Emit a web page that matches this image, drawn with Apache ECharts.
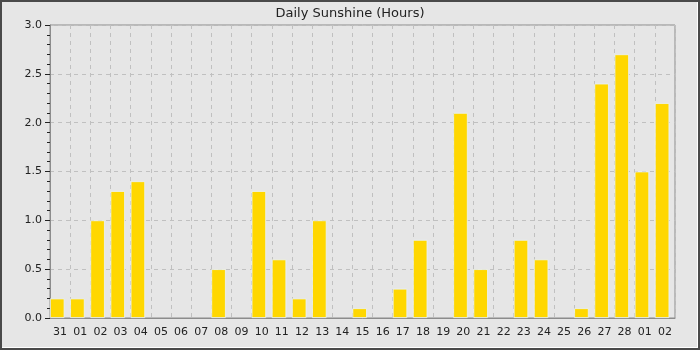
<!DOCTYPE html>
<html><head><meta charset="utf-8">
<script src="https://cdn.jsdelivr.net/npm/echarts@6/dist/echarts.min.js"></script>
<style>
html,body{margin:0;padding:0;background:#4a4a4a;}
#wrap{position:absolute;left:0;top:0;width:700px;height:350px;box-sizing:border-box;border:2px solid #4a4a4a;background:#e6e6e6;box-shadow:inset -1px -1px 0 #ffffff;}
#c{position:absolute;left:0;top:0;width:696px;height:346px;}
</style></head>
<body><div id="wrap"><div id="c"></div></div>
<script>
const titleText = "Daily Sunshine (Hours)";
const categories = ["31","01","02","03","04","05","06","07","08","09","10","11","12","13","14","15","16","17","18","19","20","21","22","23","24","25","26","27","28","01","02"];
const sunshine = [0.2,0.2,1.0,1.3,1.4,0,0,0,0.5,0,1.3,0.6,0.2,1.0,0,0.1,0,0.3,0.8,0,2.1,0.5,0,0.8,0.6,0,0.1,2.4,2.7,1.5,2.2];
const yMin = 0, yMax = 3.0, yStep = 0.5;

const chart = echarts.init(document.getElementById('c'), null, {renderer:'canvas'});
const font = 'DejaVu Sans';
chart.setOption({
  animation:false,
  backgroundColor:'transparent',
  title:{text:titleText,left:'center',top:0,textStyle:{fontFamily:font,fontSize:13,fontWeight:'normal',color:'#222'}},
  grid:{left:48,right:23,top:23,bottom:30,show:true,borderColor:'#8c8c8c',borderWidth:1,backgroundColor:'transparent'},
  xAxis:{
    type:'category',data:categories,boundaryGap:true,
    axisLine:{lineStyle:{color:'#8c8c8c',width:1}},
    axisTick:{show:false},
    axisLabel:{interval:0,color:'#222',fontFamily:font,fontSize:11,margin:9},
    splitLine:{show:true,interval:0,lineStyle:{color:'#c0c0c0',type:[4,4],width:1}}
  },
  yAxis:{
    type:'value',min:yMin,max:yMax,interval:yStep,
    axisLine:{show:true,lineStyle:{color:'#8c8c8c',width:1}},
    axisTick:{show:true,length:5,lineStyle:{color:'#222'}},
    minorTick:{show:true,splitNumber:5,length:3,lineStyle:{color:'#222'}},
    axisLabel:{color:'#222',fontFamily:font,fontSize:11,margin:8,formatter:v=>v.toFixed(1)},
    splitLine:{show:true,lineStyle:{color:'#c0c0c0',type:[4,4],width:1}}
  },
  series:[{
    type:'bar',data:sunshine.map(v=>v===0?null:v),barWidth:14.5,barGap:0,
    itemStyle:{color:'#ffd700',borderColor:'#e8f2fa',borderWidth:0.8}
  },{
    type:'bar',data:sunshine.map(()=>null),barWidth:5.66,barGap:0,silent:true
  }]
});
</script></body></html>
